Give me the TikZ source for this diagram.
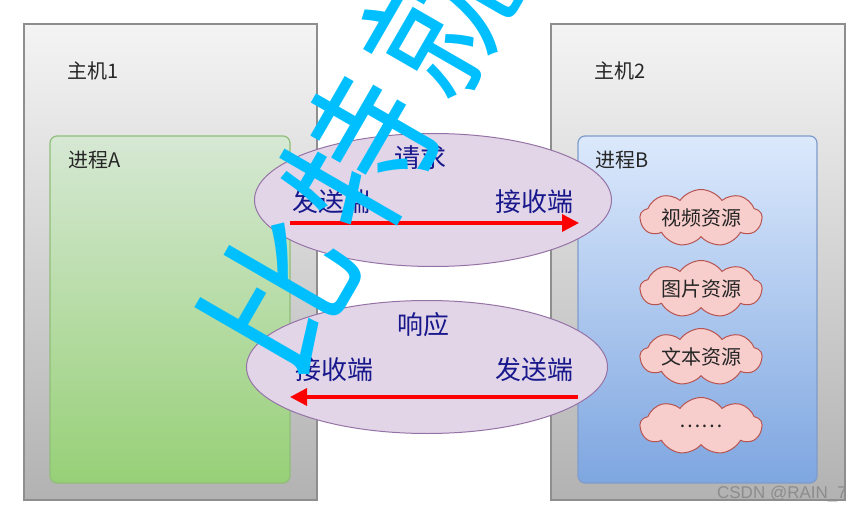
\documentclass[tikz,border=0pt]{standalone}
\usepackage{fontspec}
\setmainfont{Noto Sans CJK SC}
\newfontfamily\csdnfont{Liberation Sans}
\usetikzlibrary{arrows.meta, shapes.geometric, shapes.symbols}
\definecolor{host_top}{HTML}{F4F4F4}
\definecolor{host_bot}{HTML}{B2B2B2}
\definecolor{host_line}{HTML}{8E8E8E}
\definecolor{procA_top}{HTML}{D6E8D4}
\definecolor{procA_bot}{HTML}{97D077}
\definecolor{procA_line}{HTML}{90BE7A}
\definecolor{procB_top}{HTML}{DCE9FC}
\definecolor{procB_bot}{HTML}{7EA6E0}
\definecolor{procB_line}{HTML}{7F9CCB}
\definecolor{msg_fill}{HTML}{E1D5E7}
\definecolor{msg_line}{HTML}{9673A6}
\definecolor{msg_text}{HTML}{18188C}
\definecolor{res_fill}{HTML}{F8CECC}
\definecolor{res_line}{HTML}{B85450}
\definecolor{wm_blue}{HTML}{00BFFF}
\tikzset{
  hostbox/.style={draw=host_line, line width=1.5pt, top color=host_top, bottom color=host_bot, inner sep=0pt, outer sep=0pt},
  procbox/.style={rounded corners=7pt, line width=1.2pt, inner sep=0pt, outer sep=0pt},
  hosttext/.style={anchor=west, inner sep=0pt, text=black!85, font=\fontsize{20}{24}\selectfont},
  msgell/.style={ellipse, draw=msg_line, fill=msg_fill, line width=1pt, inner sep=0pt, outer sep=0pt},
  msgtext/.style={inner sep=0pt, text=msg_text, font=\fontsize{26}{30}\selectfont},
  msgarrow/.style={red, line width=3.5pt, -{Triangle[length=17pt, width=17pt]}},
  resource/.style={cloud, cloud puffs=9, cloud puff arc=110, cloud ignores aspect, draw=res_line, fill=res_fill, line width=1pt,
    minimum width=122pt, minimum height=57pt, inner sep=0pt, text=black!85, font=\fontsize{20}{24}\selectfont},
  wmark/.style={inner sep=0pt, rotate=60, text=wm_blue, font=\fontsize{148}{148}\selectfont}
}
\begin{document}
\begin{tikzpicture}[x=1pt, y=-1pt]
  \useasboundingbox[fill=white] (0,0) rectangle (862,513);
  % the two hosts
  \node[hostbox, minimum width=293pt, minimum height=476pt] (host1) at (170.5,262) {};
  \node[hostbox, minimum width=294pt, minimum height=476pt] (host2) at (698,262) {};
  \node[hosttext] (host1lbl) at (67,71) {主机1};
  \node[hosttext] (host2lbl) at (594,71) {主机2};
  % processes
  \node[procbox, draw=procA_line, top color=procA_top, bottom color=procA_bot, minimum width=240pt, minimum height=347pt] (procA) at (170,309.5) {};
  \node[procbox, draw=procB_line, top color=procB_top, bottom color=procB_bot, minimum width=239pt, minimum height=347pt] (procB) at (697.5,309.5) {};
  \node[hosttext] (procAlbl) at (68,160) {进程A};
  \node[hosttext] (procBlbl) at (595,160) {进程B};
  % request
  \node[msgell, minimum width=357pt, minimum height=133pt] (req) at (433,200) {};
  \node[msgtext] (reqlbl) at (420,158) {请求};
  \node[msgtext, anchor=west] (reqsend) at (292,202) {发送端};
  \node[msgtext, anchor=east] (reqrecv) at (574,202) {接收端};
  \coordinate (reqA) at (290,223);
  \coordinate (reqB) at (579,223);
  \draw[msgarrow] (reqA) -- (reqB);
  % response
  \node[msgell, minimum width=361pt, minimum height=133pt] (resp) at (427,367) {};
  \node[msgtext] (resplbl) at (423,325) {响应};
  \node[msgtext, anchor=west] (resprecv) at (295,370) {接收端};
  \node[msgtext, anchor=east] (respsend) at (574,370) {发送端};
  \coordinate (respA) at (578,397);
  \coordinate (respB) at (290,397);
  \draw[msgarrow] (respA) -- (respB);
  % resources of B
  \node[resource] (video) at (701,218) {视频资源};
  \node[resource] (image) at (701,289) {图片资源};
  \node[resource] (text) at (701,357) {文本资源};
  \node[resource] (more) at (701,426) {……};
  % watermarks
  \begin{scope}
    \clip (0,0) rectangle (862,513);
    \node[wmark] (wm1) at (280,293) {比};
    \node[wmark] (wm2) at (360,155) {特};
    \node[wmark] (wm3) at (440,17) {就};
  \end{scope}
  \node[anchor=east, inner sep=0pt, text=black!45, font=\csdnfont\fontsize{17}{19}\selectfont] (csdn) at (847,494) {CSDN @RAIN\_7};
\end{tikzpicture}
\end{document}
